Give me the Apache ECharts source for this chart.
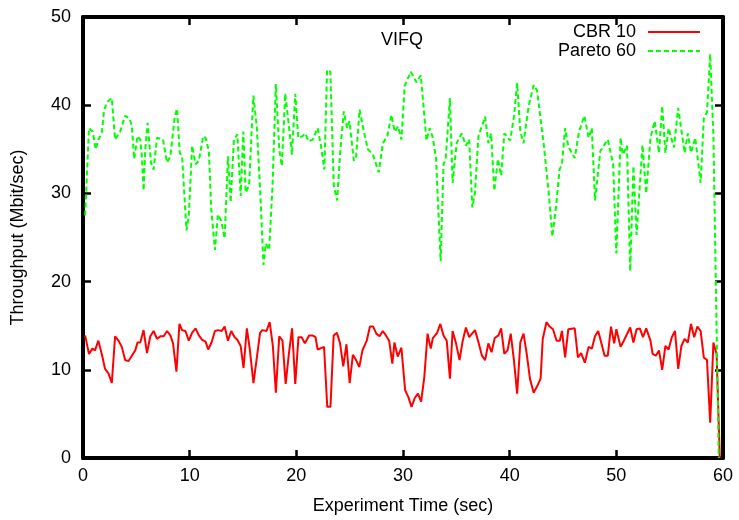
<!DOCTYPE html>
<html>
<head>
<meta charset="utf-8">
<script src="https://cdn.jsdelivr.net/npm/echarts@6/dist/echarts.min.js"></script>
<style>html,body{margin:0;padding:0;background:#fff}#chart{width:739px;height:520px}</style>
</head>
<body>
<div id="chart"></div>
<script>
var chartTitle = 'VIFQ';
var xTicks = [0, 10, 20, 30, 40, 50, 60];
var yTicks = [0, 10, 20, 30, 40, 50];
var seriesNames = ['CBR 10', 'Pareto 60'];

var cbrTimes = [0.2,0.56,0.88,1.13,1.44,1.76,2.07,2.39,2.7,3.01,3.33,3.64,3.95,4.27,4.58,4.9,5.11,5.37,5.68,6.0,6.31,6.62,6.94,7.25,7.56,7.88,8.19,8.44,8.76,9.04,9.29,9.6,9.92,10.23,10.55,10.86,11.17,11.49,11.74,12.05,12.37,12.68,13.0,13.28,13.59,13.9,14.22,14.47,14.78,15.05,15.36,15.63,15.98,16.3,16.6,16.8,17.2,17.5,17.8,18.08,18.4,18.7,19.0,19.3,19.6,19.9,20.2,20.5,20.8,21.2,21.5,21.8,22.0,22.6,22.9,23.2,23.5,23.8,24.1,24.4,24.7,25.0,25.3,25.6,25.9,26.2,26.6,26.9,27.2,27.5,27.8,28.1,28.4,28.7,29.0,29.2,29.5,29.85,30.2,30.5,30.8,31.1,31.4,31.7,32.0,32.3,32.6,32.8,33.2,33.5,33.8,34.1,34.4,34.65,34.97,35.3,35.6,35.9,36.2,36.75,37.1,37.4,37.7,38.0,38.3,38.6,38.95,39.2,39.5,39.8,40.1,40.4,40.7,41.0,41.3,41.6,41.9,42.25,42.56,42.9,43.1,43.45,43.75,44.06,44.4,44.7,44.9,45.2,45.5,46.1,46.4,46.7,47.05,47.4,47.7,48.0,48.3,48.6,48.9,49.2,49.5,49.8,50.0,50.4,50.7,51.3,51.6,51.9,52.2,52.5,52.8,53.2,53.4,53.7,54.0,54.3,54.6,54.9,55.2,55.5,55.8,56.1,56.4,56.7,57.0,57.3,57.6,57.9,58.2,58.5,58.8,59.1,59.4,59.7];
var cbrRates = [13.9,11.8,12.4,12.2,13.3,11.8,10.1,9.6,8.5,13.8,13.3,12.6,11.1,11.0,11.6,12.2,13.1,13.1,14.5,11.9,13.8,14.4,13.5,13.8,13.8,14.4,13.9,13.0,9.8,15.2,14.5,14.4,13.3,14.2,14.7,13.9,13.4,13.2,12.3,13.1,14.4,14.5,14.4,14.9,13.3,14.4,13.7,13.4,12.7,10.2,14.7,12.4,8.5,11.4,14.2,14.5,14.4,15.4,12.7,7.4,13.8,13.3,8.4,11.8,14.7,8.4,13.7,13.7,13.0,13.9,13.9,13.7,12.3,12.6,5.8,5.8,13.9,14.2,13.0,10.4,12.9,8.5,11.7,11.1,10.3,12.2,13.3,14.9,14.9,14.1,13.8,14.4,13.9,13.3,10.7,13.1,11.5,12.5,7.7,6.9,5.8,6.8,7.3,6.4,9.2,14.1,12.4,13.6,14.2,15.2,13.9,13.3,9.0,14.4,13.0,11.1,13.3,14.8,13.7,14.5,13.0,11.6,11.1,13.0,12.0,13.6,13.9,14.7,11.8,12.2,14.1,11.1,7.3,13.1,14.1,11.8,9.0,7.4,8.1,9.0,13.5,15.4,14.9,14.6,13.3,13.3,14.4,11.4,14.6,14.7,11.4,11.9,10.8,12.6,12.4,13.8,14.4,13.0,11.6,11.6,14.9,13.0,14.6,12.6,13.3,14.8,13.1,14.6,14.7,13.7,14.7,13.3,11.8,11.6,12.2,10.0,12.7,12.3,13.7,14.4,10.1,12.7,13.5,13.1,15.2,13.7,14.9,14.4,11.4,11.1,4.0,13.1,11.8,0];

var paretoTimes = [0.2,0.56,0.91,1.19,1.44,1.76,1.98,2.29,2.7,3.01,3.48,3.95,4.36,4.58,4.8,5.11,5.37,5.52,5.68,5.84,6.06,6.37,6.62,6.94,7.5,7.88,8.19,8.6,8.82,9.07,9.29,9.7,9.92,10.23,10.55,10.86,11.27,11.49,11.8,12.02,12.37,12.65,12.96,13.28,13.59,13.84,14.15,14.47,14.78,15.03,15.25,15.57,15.97,16.29,16.6,16.92,17.14,17.45,17.77,18.08,18.4,18.64,18.96,19.27,19.59,19.9,20.18,20.59,20.84,21.15,21.53,22.0,22.31,22.63,22.88,23.19,23.51,23.82,24.13,24.45,24.76,24.98,25.39,25.61,25.93,26.33,26.71,27.18,27.72,28.12,28.53,28.91,29.22,29.53,29.85,30.16,30.73,31.26,31.67,32.2,32.5,32.8,33.1,33.53,33.8,34.0,34.4,34.65,35.03,35.5,35.9,36.2,36.5,36.75,37.07,37.7,38.0,38.26,38.56,38.9,39.2,39.5,40.05,40.4,40.7,41.0,41.3,41.78,42.25,42.56,43.2,43.66,44.0,44.36,44.67,44.9,45.2,45.5,46.1,46.5,47.0,47.4,47.7,48.0,48.5,49.2,49.7,50.0,50.4,50.6,51.0,51.3,51.6,51.9,52.45,52.8,53.2,53.6,54.0,54.3,54.6,54.9,55.4,55.8,56.4,56.7,57.0,57.4,57.9,58.2,58.5,58.8,59.1,59.6];
var paretoRates = [27.5,37.4,37.0,35.0,36.1,36.8,39.5,40.4,40.8,36.1,37.0,38.8,38.5,37.6,33.9,36.5,36.1,34.2,30.3,35.0,38.0,33.5,32.7,36.3,36.1,33.5,34.2,38.7,39.6,34.6,34.2,25.8,27.5,35.4,33.3,33.7,36.5,36.3,34.8,28.3,23.6,27.6,26.9,24.9,34.2,29.0,36.1,36.7,29.7,37.0,30.1,30.9,41.1,37.6,30.5,21.9,24.3,23.6,30.9,42.4,35.0,33.1,41.3,38.0,34.4,41.3,36.3,36.5,36.8,35.9,36.1,37.4,35.4,32.7,44.0,43.8,30.9,29.2,35.0,39.3,37.4,38.2,33.7,34.2,39.5,37.0,35.0,34.4,32.4,35.7,36.5,38.9,37.0,37.6,36.1,42.2,43.8,42.6,43.4,36.0,37.4,36.3,33.9,22.3,33.3,33.9,40.8,31.2,35.7,36.8,35.4,36.1,28.4,30.1,36.5,38.7,35.7,36.8,30.3,33.9,32.0,36.8,36.0,38.7,42.5,37.0,35.7,39.9,42.3,41.7,35.5,30.1,25.1,28.6,32.7,33.3,37.4,35.3,34.0,37.0,38.8,36.3,37.4,29.2,34.8,36.1,33.3,23.2,36.3,34.4,35.4,21.2,33.1,25.3,35.5,30.0,36.3,38.2,34.6,39.9,34.6,37.4,35.2,39.7,34.6,36.8,34.6,36.3,31.2,38.5,39.2,45.8,36.5,0];

function pairs(ts, vs) { return ts.map(function (t, i) { return [t, vs[i]]; }); }

var FONT = '"Liberation Sans", Arial, Helvetica, sans-serif';
var chart = echarts.init(document.getElementById('chart'), null, { renderer: 'canvas' });

function xAxisDef(pos, showLabel) {
  return {
    type: 'value', position: pos, min: xTicks[0], max: xTicks[xTicks.length - 1], interval: 10,
    axisLine: { show: true, onZero: false, lineStyle: { color: '#000', width: 4 } },
    axisTick: { show: true, inside: true, length: 8, lineStyle: { color: '#000', width: 2.5 } },
    axisLabel: { show: showLabel, color: '#000', fontSize: 18, fontFamily: FONT, margin: 9 },
    splitLine: { show: false },
    name: showLabel ? 'Experiment Time (sec)' : '', nameLocation: 'middle', nameGap: 39,
    nameTextStyle: { color: '#000', fontSize: 18, fontFamily: FONT }
  };
}
function yAxisDef(pos, showLabel) {
  return {
    type: 'value', position: pos, min: yTicks[0], max: yTicks[yTicks.length - 1], interval: 10,
    axisLine: { show: true, onZero: false, lineStyle: { color: '#000', width: 4 } },
    axisTick: { show: true, inside: true, length: 8, lineStyle: { color: '#000', width: 2.5 } },
    axisLabel: { show: showLabel, color: '#000', fontSize: 18, fontFamily: FONT, margin: 12 },
    splitLine: { show: false },
    name: showLabel ? 'Throughput (Mbit/sec)' : '', nameLocation: 'middle', nameGap: 56,
    nameTextStyle: { color: '#000', fontSize: 18, fontFamily: FONT }
  };
}

chart.setOption({
  animation: false,
  backgroundColor: '#fff',
  title: {
    text: chartTitle, left: 402, top: 31, textAlign: 'center', padding: 0,
    textStyle: { color: '#000', fontSize: 18, fontWeight: 'normal', fontFamily: FONT }
  },
  legend: {
    orient: 'vertical', right: 33, top: 18, align: 'right',
    itemWidth: 52, itemHeight: 14, itemGap: 1,
    itemStyle: { opacity: 0 },
    textStyle: { color: '#000', fontSize: 18, fontFamily: FONT, padding: [0, 7, 0, 0] },
    data: seriesNames
  },
  grid: { left: 83, right: 16, top: 17, bottom: 57, containLabel: false },
  xAxis: [xAxisDef('bottom', true), xAxisDef('top', false)],
  yAxis: [yAxisDef('left', true), yAxisDef('right', false)],
  series: [
    {
      name: seriesNames[0], type: 'line', xAxisIndex: 0, yAxisIndex: 0,
      data: pairs(cbrTimes, cbrRates), showSymbol: false, symbol: 'none',
      lineStyle: { color: '#ff0000', width: 2 }, itemStyle: { color: '#ff0000' }
    },
    {
      name: seriesNames[1], type: 'line', xAxisIndex: 0, yAxisIndex: 0,
      data: pairs(paretoTimes, paretoRates), showSymbol: false, symbol: 'none',
      lineStyle: { color: '#00ff00', width: 2, type: [5, 3] }, itemStyle: { color: '#00ff00' }
    }
  ]
});
</script>
</body>
</html>
